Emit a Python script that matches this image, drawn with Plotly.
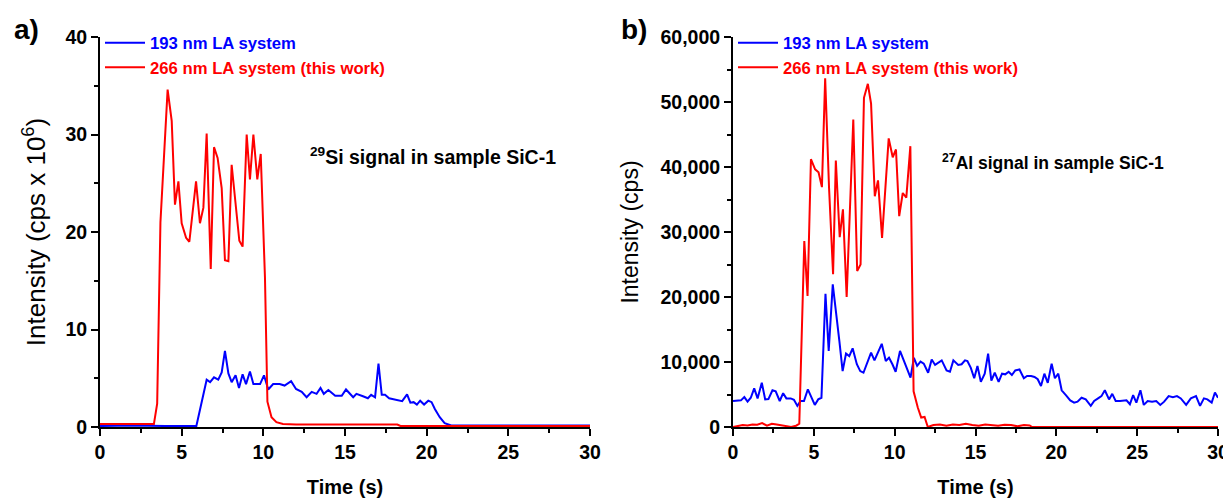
import plotly.graph_objects as go

# ---- panel a) 29Si, intensity in cps x 10^6 ----
si_266_t = [0.0, 0.5, 1.0, 1.5, 2.0, 2.5, 3.0, 3.3, 3.5, 3.7, 4.14, 4.39, 4.59, 4.80, 5.0,
            5.27, 5.47, 5.88, 6.12, 6.33, 6.53, 6.78, 6.98, 7.2, 7.45, 7.65, 7.86, 8.06,
            8.53, 8.73, 8.98, 9.18, 9.39, 9.63, 9.84, 10.1, 10.25, 10.5, 10.8, 11.2, 12.0,
            14.0, 16.0, 18.2, 18.4, 20.0, 25.0, 30.0]
si_266_y = [0.3, 0.3, 0.3, 0.3, 0.3, 0.3, 0.3, 0.3, 2.4, 21.0, 34.6, 31.4, 22.8, 25.2, 20.9,
            19.4, 19.0, 25.2, 20.9, 22.5, 30.1, 16.2, 28.7, 27.6, 24.5, 17.1, 17.0, 26.9,
            19.1, 18.5, 30.0, 25.4, 30.0, 25.4, 28.0, 15.3, 2.6, 1.0, 0.5, 0.3, 0.25,
            0.25, 0.25, 0.25, 0.1, 0.1, 0.1, 0.1]

si_193_t = [0.0, 2.0, 4.0, 5.9, 6.53, 6.74, 6.98, 7.24, 7.45, 7.65, 7.86, 8.06, 8.3, 8.51,
            8.73, 8.94, 9.18, 9.39, 9.8, 10.04, 10.3, 10.6, 11.0, 11.3, 11.7, 12.0, 12.35,
            12.65, 12.96, 13.26, 13.5, 13.7, 13.98, 14.4, 14.8, 15.06, 15.5, 15.7, 16.1,
            16.4, 16.6, 16.84, 17.05, 17.25, 17.45, 17.7, 18.5, 18.8, 19.0, 19.2, 19.4,
            19.6, 19.84, 20.1, 20.3, 20.5, 20.8, 21.1, 21.5, 25.0, 30.0]
si_193_y = [0.1, 0.15, 0.1, 0.1, 4.85, 4.6, 5.1, 4.85, 5.6, 7.8, 5.5, 4.6, 5.3, 4.0,
            5.4, 4.4, 5.7, 4.4, 4.4, 5.3, 3.85, 4.4, 4.4, 4.25, 4.7, 3.9, 3.6,
            3.05, 3.6, 3.4, 4.0, 3.4, 3.8, 3.2, 3.2, 3.85, 3.05, 3.4, 3.15,
            2.95, 3.3, 3.05, 6.5, 3.3, 3.3, 2.95, 2.65, 3.35, 2.5, 2.55, 2.3,
            2.7, 2.3, 2.7, 2.55, 1.85, 1.0, 0.4, 0.15, 0.15, 0.15]

# ---- panel b) 27Al, intensity in cps ----
al_266_t = [0.0, 0.3, 0.6, 0.9, 1.2, 1.5, 1.8, 2.1, 2.4, 2.7, 3.0, 3.3, 3.6, 3.9, 4.1,
            4.41, 4.61, 4.82, 5.08, 5.29, 5.5, 5.7, 5.94, 6.19, 6.36, 6.6, 6.8, 7.03,
            7.23, 7.44, 7.68, 7.89, 8.1, 8.34, 8.54, 8.77, 8.97, 9.22, 9.63, 9.88,
            10.08, 10.28, 10.5, 10.72, 10.97, 11.17, 11.43, 11.64, 11.85, 12.05, 12.4,
            12.8, 13.2, 13.6, 14.0, 14.4, 14.8, 15.2, 15.6, 16.0, 16.4, 16.8, 17.2,
            17.6, 18.0, 18.35, 18.5, 24.0, 30.0]
al_266_y = [0, 100, 300, 250, 400, 350, 600, 200, 500, 400, 300, 100, 0, 200, 500,
            28600, 20150, 41200, 39650, 39200, 36900, 53650, 36800, 23500, 41000, 29200,
            33500, 20000, 34260, 47300, 24000, 25000, 50650, 52800, 49750, 35500, 37950,
            29100, 44400, 41500, 42700, 32450, 36000, 35300, 43200, 5500, 3000, 1450,
            1550, 0, 300, 400, 200, 400, 300, 500, 300, 200, 400, 300, 200, 350, 300,
            100, 300, 250, 0, 0, 0]

al_193_t = [0.0, 0.18, 0.49, 0.7, 0.9, 1.1, 1.31, 1.52, 1.78, 1.99, 2.19, 2.44, 2.64, 2.89,
            3.1, 3.3, 3.57, 3.77, 3.98, 4.18, 4.39, 4.63, 4.84, 5.06, 5.27, 5.47, 5.72,
            5.92, 6.17, 6.37, 6.58, 6.78, 6.99, 7.19, 7.4, 7.66, 7.87, 8.07, 8.34, 8.54,
            8.75, 9.0, 9.2, 9.45, 9.65, 9.86, 10.06, 10.33, 10.57, 10.78, 10.98, 11.19,
            11.39, 11.6, 11.8, 12.07, 12.29, 12.5, 12.91, 13.21, 13.42, 13.63, 13.93,
            14.14, 14.35, 14.5, 14.71, 14.92, 15.12, 15.33, 15.57, 15.78, 15.98, 16.19,
            16.43, 16.64, 16.84, 17.05, 17.25, 17.46, 17.72, 17.99, 18.19, 18.44, 18.65,
            18.85, 19.05, 19.26, 19.47, 19.71, 19.91, 20.12, 20.33, 20.59, 20.86, 21.1,
            21.31, 21.56, 21.82, 22.13, 22.34, 22.58, 22.79, 23.0, 23.26, 23.46, 23.67,
            23.94, 24.18, 24.34, 24.55, 24.75, 24.95, 25.2, 25.41, 25.65, 25.92, 26.18,
            26.43, 26.67, 26.95, 27.21, 27.46, 27.7, 28.03, 28.32, 28.64, 28.89, 29.13,
            29.34, 29.61, 29.81, 30.0]
al_193_y = [4000, 4000, 4100, 4600, 3900, 4500, 5950, 4400, 6800, 4250, 4300, 5650, 5500, 4000,
            5200, 4400, 4400, 4200, 3250, 4000, 4000, 5800, 4600, 3400, 4250, 4500, 20500,
            11700, 21950, 18100, 13200, 8600, 11300, 10900, 12100, 9650, 8600, 8350, 10250,
            11450, 10250, 11800, 12800, 10150, 10650, 9650, 8500, 11700, 10150, 8850, 7600,
            10650, 9400, 10050, 9750, 8350, 10400, 9550, 10250, 8700, 8500, 10250, 9550,
            9650, 10250, 10150, 9100, 7500, 9400, 6950, 8200, 11300, 7150, 8350,
            6950, 8200, 8100, 8500, 8000, 8700, 8850, 7500, 7850, 7850, 7700,
            7350, 6300, 8200, 6800, 9750, 7500, 8200, 5650, 4900, 4100, 3750,
            3900, 4500, 4250, 3250, 4000, 4400, 4750, 5650, 4250, 5100, 4000,
            4000, 4000, 4100, 3500, 4900, 3750, 5650, 3400, 4000, 3900, 4000,
            3400, 3900, 4750, 4600, 4750, 4400, 3400, 4400, 4750, 3250, 4400,
            4250, 3750, 5300, 4500]

BLUE = "#0000FF"
RED = "#FF0000"
FONT = "Arial, Liberation Sans, sans-serif"

fig = go.Figure()

fig.add_trace(go.Scatter(x=si_193_t, y=si_193_y, mode="lines", xaxis="x", yaxis="y",
                         line=dict(color=BLUE, width=2), legend="legend",
                         name="<span style='color:#0000FF'>193 nm LA system</span>"))
fig.add_trace(go.Scatter(x=si_266_t, y=si_266_y, mode="lines", xaxis="x", yaxis="y",
                         line=dict(color=RED, width=2), legend="legend",
                         name="<span style='color:#FF0000'>266 nm LA system (this work)</span>"))
fig.add_trace(go.Scatter(x=al_193_t, y=al_193_y, mode="lines", xaxis="x2", yaxis="y2",
                         line=dict(color=BLUE, width=2), legend="legend2",
                         name="<span style='color:#0000FF'>193 nm LA system</span>"))
fig.add_trace(go.Scatter(x=al_266_t, y=al_266_y, mode="lines", xaxis="x2", yaxis="y2",
                         line=dict(color=RED, width=2), legend="legend2",
                         name="<span style='color:#FF0000'>266 nm LA system (this work)</span>"))

# eixos comuns
eixo = dict(showline=True, linecolor="black", linewidth=2, mirror=False,
            ticks="outside", ticklen=7, tickwidth=2, tickcolor="black",
            showgrid=False, zeroline=False, automargin=False,
            tickfont=dict(family=FONT, size=19.5, color="black", weight="bold"))
minor_x = dict(dtick=2.5, ticks="outside", ticklen=4, tickwidth=1.5, tickcolor="black")
tit_x = dict(text="Time (s)", font=dict(size=20, weight="bold"), standoff=20)

# a pagina tem 8px de margem no body: figura deslocada, entao margens compensam
fig.update_layout(
    width=1231, height=490,
    margin=dict(l=92, r=21, t=29, b=71),
    plot_bgcolor="white", paper_bgcolor="white",
    font=dict(family=FONT, color="black"),
    xaxis=dict(eixo, domain=[0, 0.4383], range=[0, 30], dtick=5, minor=minor_x, title=tit_x),
    yaxis=dict(eixo, domain=[0, 1], range=[0, 40], dtick=10,
               minor=dict(dtick=5, ticks="outside", ticklen=4, tickwidth=1.5, tickcolor="black"),
               title=dict(text="Intensity (cps x 10<sup>6</sup>)", font=dict(size=26), standoff=12)),
    xaxis2=dict(eixo, domain=[0.5662, 1], range=[0, 30], dtick=5, minor=minor_x, anchor="y2",
                title=tit_x),
    yaxis2=dict(eixo, domain=[0, 1], range=[0, 60000], dtick=10000, tickformat=",d",
                anchor="x2",
                minor=dict(dtick=5000, ticks="outside", ticklen=4, tickwidth=1.5, tickcolor="black"),
                title=dict(text="Intensity (cps)", font=dict(size=23))),
    legend=dict(x=0.0, y=1.03, xanchor="left", yanchor="top", bgcolor="rgba(0,0,0,0)",
                font=dict(size=16.7, weight="bold"), tracegroupgap=0, itemwidth=40),
    legend2=dict(x=0.5662, y=1.03, xanchor="left", yanchor="top", bgcolor="rgba(0,0,0,0)",
                 font=dict(size=16.7, weight="bold"), tracegroupgap=0, itemwidth=40),
    annotations=[
        dict(text="a)", xref="paper", yref="paper", x=-0.0787, y=1.02, xanchor="left",
             yanchor="middle", showarrow=False, font=dict(size=28, weight="bold")),
        dict(text="b)", xref="paper", yref="paper", x=0.4642, y=1.02, xanchor="left",
             yanchor="middle", showarrow=False, font=dict(size=28, weight="bold")),
        dict(text="<sup>29</sup>Si signal in sample SiC-1", xref="x", yref="y", x=20.4, y=27.8,
             showarrow=False, font=dict(size=19.5, weight="bold")),
        dict(text="<sup>27</sup>Al signal in sample SiC-1", xref="x2", yref="y2", x=19.8, y=40800,
             showarrow=False, font=dict(size=17.5, weight="bold")),
    ],
)

fig.write_html("out.html")
